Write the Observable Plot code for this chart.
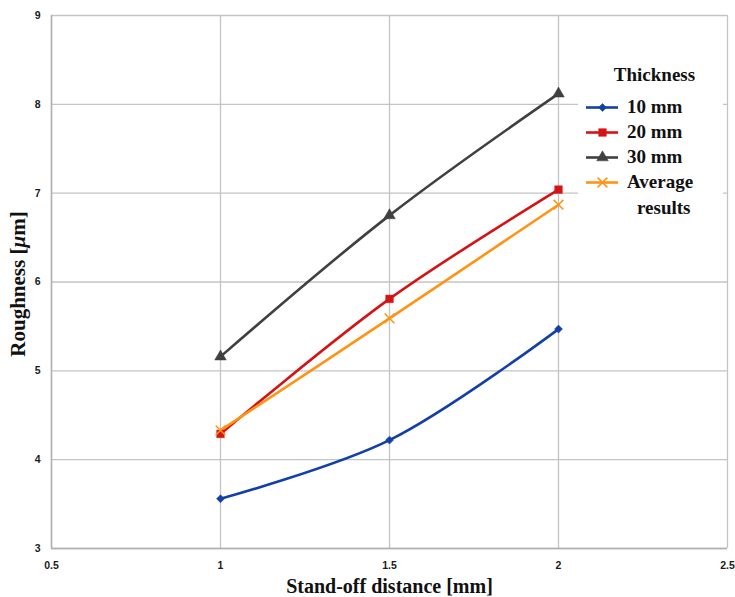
<!DOCTYPE html>
<html>
<head>
<meta charset="utf-8">
<script src="https://cdn.jsdelivr.net/npm/d3@7"></script>
<script src="https://cdn.jsdelivr.net/npm/@observablehq/plot@0.6"></script>
<style>
  html, body { margin: 0; padding: 0; background: #fff; }
  #wrap { position: relative; width: 735px; height: 597px; }
  #legend { position: absolute; left: 578px; top: 60px; width: 145px; background: #fff;
    font-family: "Liberation Serif", Tinos, "DejaVu Serif", "Times New Roman", Times, serif; font-weight: bold; font-size: 19px; color: #111; }
  #legend .title { text-align: center; margin-left: 8px; height: 34px; line-height: 30px; }
  #legend .row { display: flex; align-items: center; height: 25px; }
  #legend .row svg { flex: none; margin-left: 8px; margin-right: 9px; }
</style>
</head>
<body>
<div id="wrap"><div id="chart"></div><div id="legend"></div></div>
<script>
const distances = [1, 1.5, 2];
const seriesNames = ["10 mm", "20 mm", "30 mm", "Average results"];
const rough10 = [3.56, 4.22, 5.47];
const rough20 = [4.29, 5.81, 7.04];
const rough30 = [5.16, 6.75, 8.12];
const roughAvg = [4.33, 5.59, 6.87];
const xTicks = [0.5, 1, 1.5, 2, 2.5];
const yTicks = [3, 4, 5, 6, 7, 8, 9];
const colors = ["#1240a8", "#d41414", "#404040", "#ff9414"];
const symbols = ["diamond2", "square", "triangle", "times"];
const serif = "'Liberation Serif', Tinos, 'DejaVu Serif', 'Times New Roman', Times, serif";

const allSeries = [rough10, rough20, rough30, roughAvg];
const data = [];
allSeries.forEach((vals, i) => vals.forEach((v, j) => data.push({series: seriesNames[i], x: distances[j], y: v})));

const tickFont = {fontFamily: "'Liberation Sans', Arial, sans-serif", fontWeight: "bold", fontSize: 10.5, fill: "#1a1a1a"};

const plot = Plot.plot({
  width: 735,
  height: 597,
  marginLeft: 51,
  marginRight: 8,
  marginTop: 15,
  marginBottom: 49,
  style: {background: "#fff", overflow: "visible"},
  x: {domain: [0.5, 2.5]},
  y: {domain: [3, 9]},
  color: {domain: seriesNames, range: colors},
  symbol: {domain: seriesNames, range: symbols},
  marks: [
    Plot.gridX(xTicks, {stroke: "#c4c4c4", strokeOpacity: 1, strokeWidth: 1.3}),
    Plot.gridY(yTicks, {stroke: "#c4c4c4", strokeOpacity: 1, strokeWidth: 1.3}),
    Plot.ruleX([0.5], {stroke: "#b0b0b0", strokeWidth: 1.5}),
    Plot.ruleY([3], {stroke: "#b0b0b0", strokeWidth: 1.5}),
    Plot.axisX(xTicks, {tickSize: 0, tickPadding: 13, tickFormat: d => String(d), label: null, ...tickFont}),
    Plot.axisY(yTicks, {tickSize: 0, tickPadding: 11, tickFormat: d => String(d), label: null, ...tickFont}),
    Plot.line(data, {x: "x", y: "y", z: "series", stroke: "series", strokeWidth: 2.6, curve: "catmull-rom"}),
    Plot.dot(data.filter(d => d.series === "10 mm"), {x: "x", y: "y", symbol: "series", fill: "series", stroke: "series", r: 3.6, strokeWidth: 0.5}),
    Plot.dot(data.filter(d => d.series === "20 mm" || d.series === "30 mm"), {x: "x", y: "y", symbol: "series", fill: "series", stroke: "series", r: 4.3, strokeWidth: 0.5}),
    Plot.dot(data.filter(d => d.series === "Average results"), {x: "x", y: "y", symbol: "series", stroke: "series", r: 4.5, strokeWidth: 1.5}),
    Plot.text(["Stand-off distance [mm]"], {frameAnchor: "bottom", dy: 44, fontFamily: serif, fontWeight: "bold", fontSize: 20, fill: "#111", lineAnchor: "bottom"}),
    Plot.text(["Roughness [μm]"], {frameAnchor: "left", textAnchor: "middle", dx: -33, dy: 2, rotate: -90, fontFamily: serif, fontWeight: "bold", fontSize: 21, fill: "#111"})
  ]
});
document.getElementById("chart").appendChild(plot);

// italicize μ in y label
plot.querySelectorAll("text").forEach(t => {
  if (t.textContent === "Roughness [μm]") {
    t.textContent = "";
    const parts = [["Roughness [", null], ["μ", "italic"], ["m]", null]];
    parts.forEach(([s, st]) => {
      const ts = document.createElementNS("http://www.w3.org/2000/svg", "tspan");
      ts.textContent = s;
      if (st) ts.setAttribute("font-style", st);
      t.appendChild(ts);
    });
  }
});

// legend
const legend = document.getElementById("legend");
const title = document.createElement("div");
title.className = "title";
title.textContent = "Thickness";
legend.appendChild(title);
const labelLines = [["10 mm"], ["20 mm"], ["30 mm"], ["Average", "results"]];
seriesNames.forEach((name, i) => {
  labelLines[i].forEach((txt, k) => {
    const row = document.createElement("div");
    row.className = "row";
    if (k === 1) row.style.height = "28px";
    const sw = Plot.plot({
      width: 32, height: 24, margin: 0,
      x: {domain: [0, 1], axis: null}, y: {domain: [0, 1], axis: null},
      marks: k === 0 ? [
        Plot.ruleY([0.5], {stroke: colors[i], strokeWidth: 2.6}),
        Plot.dot([{x: 0.5, y: 0.5}], {x: "x", y: "y", symbol: () => symbols[i], fill: i === 3 ? "none" : colors[i], stroke: colors[i], r: i === 3 ? 4.5 : (i === 0 ? 3.6 : 4.3), strokeWidth: i === 3 ? 1.5 : 0.5})
      ] : []
    });
    sw.style.background = "transparent";
    row.appendChild(sw);
    const span = document.createElement("span");
    span.textContent = txt;
    if (k === 1) span.style.marginLeft = "10px";
    row.appendChild(span);
    legend.appendChild(row);
  });
});
</script>
</body>
</html>
